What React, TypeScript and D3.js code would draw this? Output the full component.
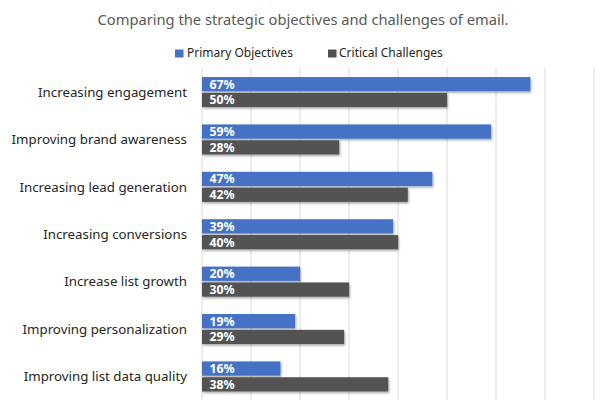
import React from 'react';
import * as d3 from 'd3';

const categories = [
  'Increasing engagement',
  'Improving brand awareness',
  'Increasing lead generation',
  'Increasing conversions',
  'Increase list growth',
  'Improving personalization',
  'Improving list data quality',
];
const seriesNames = ['Primary Objectives', 'Critical Challenges'];
const primaryObjectives = [67, 59, 47, 39, 20, 19, 16];
const criticalChallenges = [50, 28, 42, 40, 30, 29, 38];
const xTicks = [0, 10, 20, 30, 40, 50, 60, 70, 80];

const COLORS = ['#4472C4', '#525252'];
const FONT = "'Noto Sans', 'Open Sans', sans-serif";

const App: React.FC = () => {
  const width = 608;
  const height = 404;
  const margin = { top: 68.5, right: 14, bottom: 4, left: 202 };

  const x = d3.scaleLinear().domain([0, 80]).range([margin.left, width - margin.right]);

  const y = d3.scaleBand<string>()
    .domain(categories)
    .range([margin.top, height - margin.bottom])
    .paddingInner(0.366)
    .paddingOuter(0.18);

  const sub = d3.scaleBand<string>()
    .domain(seriesNames)
    .range([0, y.bandwidth()])
    .paddingInner(0.1);

  const values = [primaryObjectives, criticalChallenges];

  return (
    <svg width={width} height={height} style={{ position: 'absolute', left: 0, top: 0, background: '#fff' }}>
      <defs>
        <filter id="shadow" x="-5%" y="-30%" width="115%" height="180%">
          <feDropShadow dx="1" dy="1.5" stdDeviation="1" floodColor="#000" floodOpacity="0.35" />
        </filter>
      </defs>
      <text x={303} y={25} textAnchor="middle" fontFamily={FONT} fontSize={14.7} fill="#595959">
        Comparing the strategic objectives and challenges of email.
      </text>

      {/* legend */}
      <g fontFamily={FONT} fontSize={12} fill="#262626">
        <rect x={175} y={49.5} width={8.5} height={8} fill={COLORS[0]} />
        <text x={187} y={57}>{seriesNames[0]}</text>
        <rect x={328} y={49.5} width={8.5} height={8} fill={COLORS[1]} />
        <text x={339} y={57}>{seriesNames[1]}</text>
      </g>

      {/* gridlines */}
      <g>
        {xTicks.map(t => (
          <line key={t} x1={x(t)} x2={x(t)} y1={68} y2={400} stroke="#d9d9d9" strokeWidth={1} />
        ))}
      </g>

      {/* category labels */}
      <g fontFamily={FONT} fontSize={13.3} fill="#262626">
        {categories.map(c => (
          <text key={c} x={187} y={(y(c) ?? 0) + y.bandwidth() / 2} dy="0.35em" textAnchor="end">
            {c}
          </text>
        ))}
      </g>

      {/* bars */}
      {seriesNames.map((s, si) => (
        <g key={s}>
          {categories.map((c, i) => {
            const by = (y(c) ?? 0) + (sub(s) ?? 0);
            const v = values[si][i];
            return (
              <g key={c}>
                <rect
                  x={x(0)}
                  y={by}
                  width={x(v) - x(0)}
                  height={sub.bandwidth()}
                  fill={COLORS[si]}
                  filter="url(#shadow)"
                />
                <text
                  x={x(0) + 7.5}
                  y={by + sub.bandwidth() / 2}
                  dy="0.36em"
                  fontFamily={FONT}
                  fontSize={12.3}
                  fontWeight="bold"
                  fill="#fff"
                >
                  {v}%
                </text>
              </g>
            );
          })}
        </g>
      ))}
    </svg>
  );
};

export default App;
